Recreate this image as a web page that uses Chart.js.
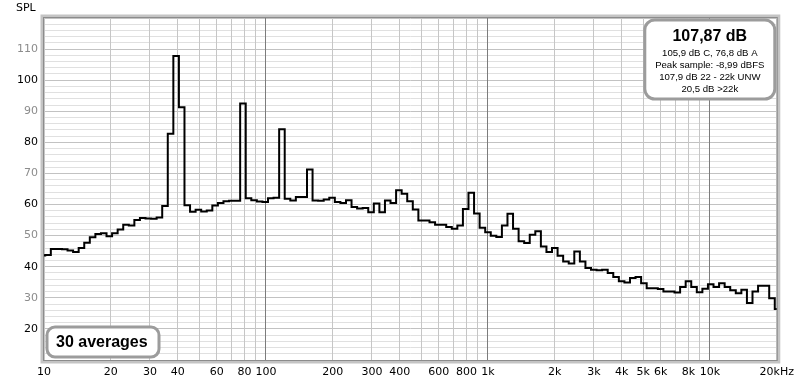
<!DOCTYPE html>
<html>
<head>
<meta charset="utf-8">
<script src="https://cdn.jsdelivr.net/npm/chart.js@4.4.1/dist/chart.umd.min.js"></script>
<style>
    html, body { margin: 0; padding: 0; background: #fff; }
</style>
</head>
<body>
<canvas id="rtaChart" width="800" height="385"></canvas>
<script>
// 1/12 octave RTA - band n is centred on 1000 * 2^(n/12) Hz
const firstBand = -80;

// SPL per band (dB)
const spl10to100 = [
    43.6, 43.8, 45.7, 45.7, 45.6, 45.2, 44.7, 46.0, 47.7, 49.5,
    50.5, 50.8, 49.8, 50.8, 52.0, 53.5, 53.3, 55.0, 55.7, 55.5,
    55.4, 55.8, 59.5, 82.8, 107.8, 91.3, 59.8, 57.7, 58.3, 57.8,
    58.1, 59.7, 60.5, 61.1, 61.2, 61.2, 92.5, 62.0, 61.4, 61.0
];
const spl100to1k = [
    60.8, 62.0, 62.2, 84.2, 61.9, 61.3, 62.4, 62.4, 71.3, 61.3,
    61.2, 61.6, 62.2, 60.8, 60.5, 61.4, 59.2, 58.7, 58.9, 57.5,
    60.3, 57.5, 61.3, 60.5, 64.6, 63.5, 61.1, 58.4, 54.9, 54.9,
    54.3, 53.5, 53.5, 52.8, 52.2, 53.3, 58.6, 63.8, 57.1, 52.5
];
const spl1kto20k = [
    51.1, 50.0, 49.6, 53.3, 57.0, 52.2, 48.2, 47.6, 50.3, 51.4,
    46.5, 44.7, 46.0, 43.5, 41.7, 41.0, 44.9, 41.7, 39.6, 39.0,
    38.9, 39.0, 38.0, 36.7, 35.3, 34.9, 36.4, 36.7, 34.7, 33.1,
    33.1, 32.8, 32.0, 32.0, 31.7, 33.5, 35.3, 33.5, 31.8, 32.9,
    34.4, 33.5, 34.7, 33.5, 32.4, 31.5, 32.6, 28.3, 32.0, 33.9,
    33.9, 29.9, 26.4
];

// axis grid and labels
const xGridFreqs = [
    10, 20, 30, 40, 50, 60, 70, 80, 90,
    100, 200, 300, 400, 500, 600, 700, 800, 900,
    1000, 2000, 3000, 4000, 5000, 6000, 7000, 8000, 9000,
    10000, 20000
];
const xDecades = [100, 1000, 10000];
const xLabelFreqs = [10, 20, 30, 40, 60, 80, 100, 200, 300, 400, 600, 800,
    1000, 2000, 3000, 4000, 5000, 6000, 8000, 10000, 20000];
const xLabelTexts = ['10', '20', '30', '40', '60', '80', '100', '200', '300', '400', '600', '800',
    '1k', '2k', '3k', '4k', '5k', '6k', '8k', '10k', '20kHz'];
const yLabelValues = [20, 30, 40, 50, 60, 70, 80, 90, 100, 110];
const yDarkLabels = [20, 40, 60, 80, 100];

const readoutTitle = '107,87 dB';
const readoutLines = ['105,9 dB C, 76,8 dB A', 'Peak sample: -8,99 dBFS', '107,9 dB 22 - 22k UNW', '20,5 dB >22k'];
const averagesText = '30 averages';

const tickFont = { family: 'DejaVu Sans', size: 11 };

function roundBox(ctx, x, y, w, h, r) {
    ctx.beginPath();
    ctx.moveTo(x + r, y);
    ctx.arcTo(x + w, y, x + w, y + h, r);
    ctx.arcTo(x + w, y + h, x, y + h, r);
    ctx.arcTo(x, y + h, x, y, r);
    ctx.arcTo(x, y, x + w, y, r);
    ctx.closePath();
    ctx.fillStyle = '#fff';
    ctx.fill();
    ctx.lineWidth = 3;
    ctx.strokeStyle = '#9c9c9c';
    ctx.stroke();
}

// frame, SPL caption and the two text boxes
const rewDecor = {
    id: 'rewDecor',
    afterDraw(chart) {
        const ctx = chart.ctx;
        const a = chart.chartArea;
        ctx.save();

        ctx.lineWidth = 3;
        ctx.strokeStyle = '#c4c4c4';
        ctx.strokeRect(a.left - 2, a.top - 2, a.right - a.left + 4, a.bottom - a.top + 4);
        ctx.lineWidth = 1;
        ctx.strokeStyle = '#8c8c8c';
        ctx.strokeRect(a.left - 0.5, a.top - 0.5, a.right - a.left + 1, a.bottom - a.top + 1);

        ctx.fillStyle = '#000';
        ctx.font = '11px "DejaVu Sans"';
        ctx.textAlign = 'left';
        ctx.textBaseline = 'middle';
        ctx.fillText('SPL', 16, 8);

        // readout box, top right
        const bx = a.right - 132;
        roundBox(ctx, bx, a.top + 2, 130, 79, 10);
        ctx.fillStyle = '#000';
        ctx.textAlign = 'center';
        ctx.font = 'bold 16px "Liberation Sans"';
        ctx.fillText(readoutTitle, bx + 65, a.top + 19);
        ctx.font = '9.6px "Liberation Sans"';
        readoutLines.forEach((t, i) => ctx.fillText(t, bx + 65, a.top + 35 + i * 12));

        // averages box, bottom left
        roundBox(ctx, a.left + 3, a.bottom - 33, 112, 30, 8);
        ctx.fillStyle = '#000';
        ctx.textAlign = 'left';
        ctx.font = 'bold 16px "Liberation Sans"';
        ctx.fillText(averagesText, a.left + 12, a.bottom - 17);

        ctx.restore();
    }
};

const spl = spl10to100.concat(spl100to1k, spl1kto20k);
const points = spl.map((v, i) => ({ x: 1000 * Math.pow(2, (firstBand + i) / 12), y: v }));

new Chart(document.getElementById('rtaChart').getContext('2d'), {
    type: 'line',
    data: {
        datasets: [{
            data: points,
            borderColor: '#000',
            borderWidth: 2,
            stepped: 'middle',
            pointRadius: 0,
            fill: false
        }]
    },
    options: {
        responsive: false,
        animation: false,
        devicePixelRatio: 1,
        layout: { padding: { left: 0, right: 22, top: 18, bottom: 0 } },
        plugins: {
            legend: { display: false },
            tooltip: { enabled: false }
        },
        scales: {
            x: {
                type: 'logarithmic',
                min: 10,
                max: 20000,
                afterBuildTicks: function(scale) {
                    scale.ticks = xGridFreqs.map(v => ({ value: v }));
                },
                afterFit: function(scale) {
                    scale.height = 25;
                },
                border: { display: false },
                grid: {
                    z: -1,
                    drawTicks: false,
                    color: function(c) {
                        return xDecades.includes(c.tick.value) ? '#7c7c7c' : '#c6c6c6';
                    }
                },
                ticks: {
                    autoSkip: false,
                    maxRotation: 0,
                    padding: 6,
                    color: '#000',
                    font: tickFont,
                    callback: function(value) {
                        const i = xLabelFreqs.indexOf(value);
                        return i >= 0 ? xLabelTexts[i] : '';
                    }
                }
            },
            y: {
                type: 'linear',
                min: 10,
                max: 120,
                afterFit: function(scale) {
                    scale.width = 44;
                },
                border: { display: false },
                grid: {
                    z: -2, // horizontal lines go under the vertical ones
                    drawTicks: false,
                    color: function(c) {
                        return c.tick.value % 10 === 0 ? '#c2c2c2' : '#e0e0e0';
                    }
                },
                ticks: {
                    stepSize: 2,
                    autoSkip: false,
                    padding: 6,
                    font: tickFont,
                    color: function(c) {
                        return yDarkLabels.includes(c.tick.value) ? '#000' : '#8c8c8c';
                    },
                    callback: function(value) {
                        return yLabelValues.includes(value) ? String(value) : '';
                    }
                }
            }
        }
    },
    plugins: [rewDecor]
});
</script>
</body>
</html>
